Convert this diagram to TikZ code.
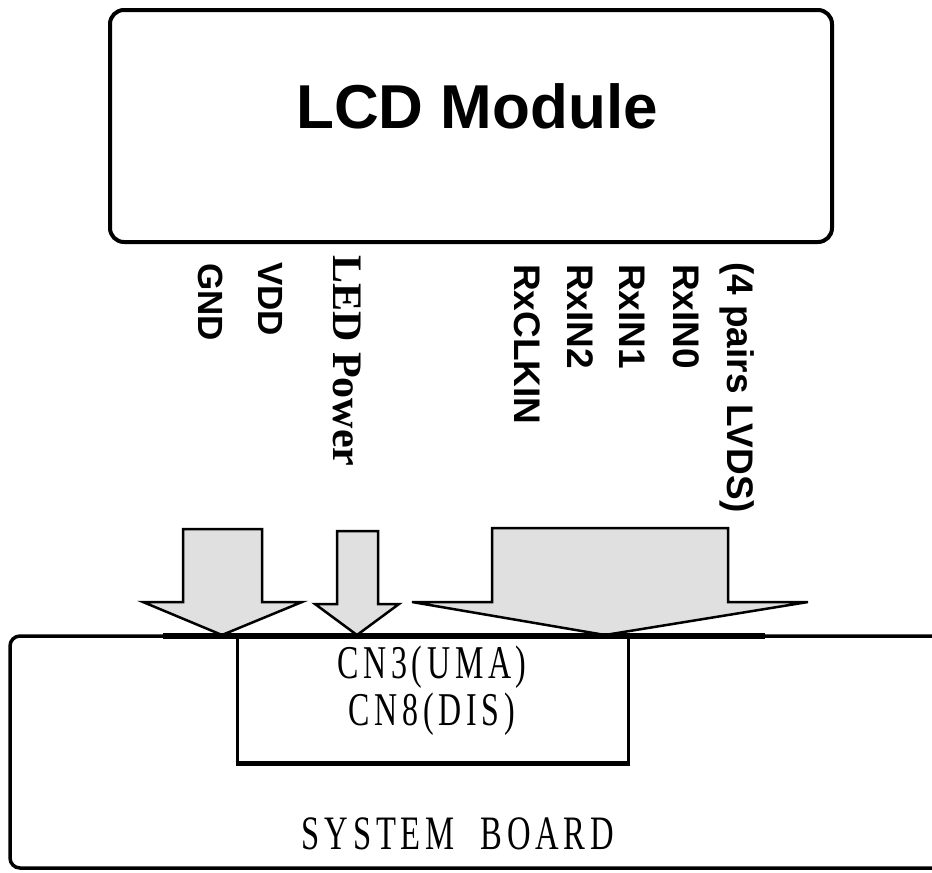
\documentclass[tikz,border=0pt]{standalone}
\usepackage{fontspec}
\setmainfont{Liberation Sans}
\newfontfamily\labserif{Liberation Serif}
\newfontfamily\cnserif{Liberation Serif}[FakeStretch=0.68,LetterSpace=10]
\usetikzlibrary{positioning}
\tikzset{
  siglabel/.style={rotate=-90, anchor=west, inner sep=0pt, text depth=0pt},
  blockarrow/.style={fill=black!12, draw=black, line width=2.5pt, line join=miter},
}

\begin{document}
\begin{tikzpicture}[x=1pt,y=-1pt]
\clip (0,0) rectangle (932,873);

% LCD module
\node[draw, line width=4pt, rounded corners=14pt, minimum width=722pt, minimum height=232pt, inner sep=0pt] (lcd) at (471,126) {};
\node[font=\fontsize{62}{62}\selectfont\bfseries] (lcdtitle) at (477,106) {LCD Module};

% Signals
\node[siglabel, text height=25.1pt, font=\fontsize{35}{35}\selectfont\bfseries] (gnd) at (211,263) {GND};
\node[siglabel, text height=25.1pt, font=\fontsize{35}{35}\selectfont\bfseries] (vdd) at (271,262) {VDD};
\node[siglabel, text height=27.8pt, font=\labserif\fontsize{42}{42}\selectfont\bfseries] (ledpwr) at (347,255) {LED Power};
\node[siglabel, text height=26.5pt, font=\fontsize{37}{37}\selectfont\bfseries] (rxclk) at (528,264) {RxCLKIN};
\node[siglabel, text height=26.5pt, font=\fontsize{37}{37}\selectfont\bfseries] (rxin2) at (581,264) {RxIN2};
\node[siglabel, text height=26.5pt, font=\fontsize{37}{37}\selectfont\bfseries] (rxin1) at (633,264) {RxIN1};
\node[siglabel, text height=26.5pt, font=\fontsize{37}{37}\selectfont\bfseries] (rxin0) at (687,264) {RxIN0};
\node[siglabel, text height=26.5pt, font=\fontsize{37}{37}\selectfont\bfseries] (lvds) at (741,262) {(4 pairs LVDS)};

% Arrows
\filldraw[blockarrow] (183,529) -- (262,529) -- (262,602) -- (302,602) -- (222,635) -- (143,602) -- (183,602) -- cycle;
\filldraw[blockarrow] (337,531) -- (378,531) -- (378,604) -- (399,604) -- (357,635) -- (315,604) -- (337,604) -- cycle;
\filldraw[blockarrow] (492,528) -- (728,528) -- (728,602) -- (808,602) -- (605,635) -- (412,602) -- (492,602) -- cycle;

% System board
\node[draw, line width=3.5pt, rounded corners=10pt, minimum width=950pt, minimum height=232pt, inner sep=0pt, fill=white] (board) at (485,752) {};
\draw[line width=6pt] (163,636) -- (765,636);

% Connector
\node[draw, line width=3pt, minimum width=391pt, minimum height=126pt, inner sep=0pt] (cn) at (432.5,699) {};
\draw[line width=5pt] (cn.south west) -- (cn.south east);
\node[font=\cnserif\fontsize{47}{47}\selectfont, inner sep=0pt] (cnuma) at (432,667) {CN3(UMA)};
\node[font=\cnserif\fontsize{47}{47}\selectfont, inner sep=0pt] (cndis) at (432,714) {CN8(DIS)};
\node[font=\cnserif\fontsize{48}{48}\selectfont, inner sep=0pt] (sysboard) at (458,834) {SYSTEM\ \ BOARD};
\end{tikzpicture}
\end{document}
